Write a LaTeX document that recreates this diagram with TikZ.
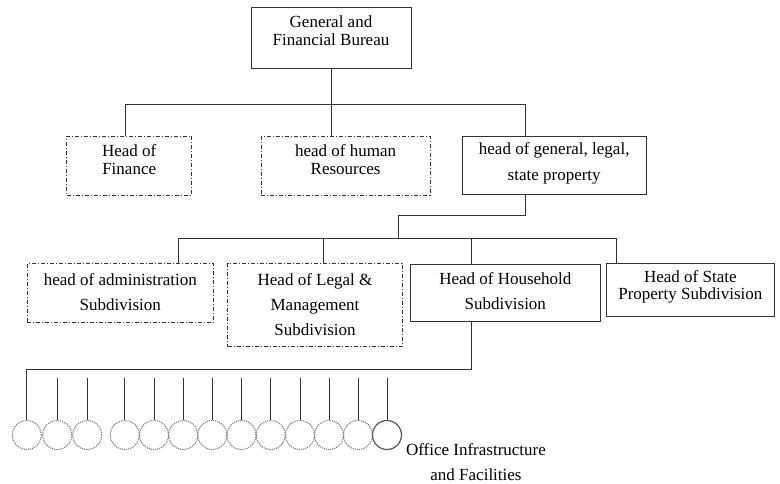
\documentclass[tikz,border=0pt]{standalone}
\usepackage{fontspec}
\setmainfont{Liberation Serif}
\begin{document}
\begin{tikzpicture}[x=1pt,y=-1pt,
  line/.style={draw=black!80, line width=0.8pt},
  sbox/.style={draw=black!80, line width=0.8pt, inner sep=0pt},
  dbox/.style={sbox, dash pattern=on 4pt off 2pt on 1pt off 2pt},
  lbl/.style={align=center, inner sep=0pt, text=black, font=\fontsize{17}{18.3}\selectfont},
  lblw/.style={lbl, font=\fontsize{17}{25.7}\selectfont},
  ring/.style={circle, draw=black!52, line width=1.1pt, densely dotted, minimum size=29pt, inner sep=0pt},
  ringlast/.style={circle, draw=black!65, line width=1.2pt, minimum size=29pt, inner sep=0pt}]
\useasboundingbox (0,0) rectangle (780,483);

% level 0
\node[sbox, minimum width=160pt, minimum height=61pt] (top) at (331,37.5) {};
\node[lbl] (toptxt) at (331,30.9) {General and\\Financial Bureau};

% level 1
\node[dbox, minimum width=125pt, minimum height=59pt] (fin) at (129.2,165.5) {};
\node[lbl] (fintxt) at (129.2,159.5) {Head of\\Finance};
\node[dbox, minimum width=168.7pt, minimum height=59pt] (hr) at (345.6,165.5) {};
\node[lbl] (hrtxt) at (345.6,159.5) {head of human\\Resources};
\node[sbox, minimum width=183.7pt, minimum height=58pt] (gen) at (554.2,165) {};
\node[lblw] (gentxt) at (554.2,163.5) {head of general, legal,\\state property};

% level 2
\node[dbox, minimum width=186pt, minimum height=59.4pt] (adm) at (120.3,293) {};
\node[lblw] (admtxt) at (120.3,292.2) {head of administration\\Subdivision};
\node[dbox, minimum width=174.6pt, minimum height=83.4pt] (leg) at (315,305) {};
\node[lblw, font=\fontsize{17}{25.3}\selectfont] (legtxt) at (315,304.7) {Head of Legal \&\\Management\\Subdivision};
\node[sbox, minimum width=189.3pt, minimum height=57.4pt] (hh) at (505.35,293) {};
\node[lblw] (hhtxt) at (505.35,291) {Head of Household\\Subdivision};
\node[sbox, minimum width=167.3pt, minimum height=52.7pt] (st) at (690.35,289.7) {};
\node[lbl, font=\fontsize{17}{17}\selectfont] (sttxt) at (690.35,286.7) {Head of State\\Property Subdivision};

% connectors level 0 -> 1
\coordinate (b1l) at (125,104.5);
\coordinate (b1m) at (331,104.5);
\coordinate (b1r) at (525.7,104.5);
\draw[line] (top.south) -- (b1m);
\draw[line] (b1l) -- (b1r);
\draw[line] (b1l) -- (b1l |- fin.north);
\draw[line] (b1m) -- (b1m |- hr.north);
\draw[line] (b1r) -- (b1r |- gen.north);

% connectors gen -> level 2
\coordinate (g1) at (525.7,215.5);
\coordinate (g2) at (398,238.3);
\coordinate (b2l) at (178,238.3);
\coordinate (b2a) at (323.3,238.3);
\coordinate (b2b) at (471.7,238.3);
\coordinate (b2r) at (616.7,238.3);
\draw[line] (g1 |- gen.south) -- (g1) -| (g2);
\draw[line] (b2l) -- (b2r);
\draw[line] (b2l) -- (b2l |- adm.north);
\draw[line] (b2a) -- (b2a |- leg.north);
\draw[line] (b2b) -- (b2b |- hh.north);
\draw[line] (b2r) -- (b2r |- st.north);

% circles
\foreach \x [count=\i] in {26.8,57.2,87.2,124.8,154,183.2,212.3,241.5,270.7,300,329,358}
  \node[ring] (c\i) at (\x,435) {};
\node[ringlast] (c13) at (387,435) {};
\node[lblw] (office) at (476,462) {Office Infrastructure\\and Facilities};

% connectors household -> circles
\coordinate (h1) at (471.7,369.3);
\draw[line] (h1 |- hh.south) -- (h1) -- (c1.north |- h1) -- (c1.north);
\foreach \i in {2,...,13}
  \draw[line] (c\i.north |- 0,378.3) -- (c\i.north);
\end{tikzpicture}
\end{document}
